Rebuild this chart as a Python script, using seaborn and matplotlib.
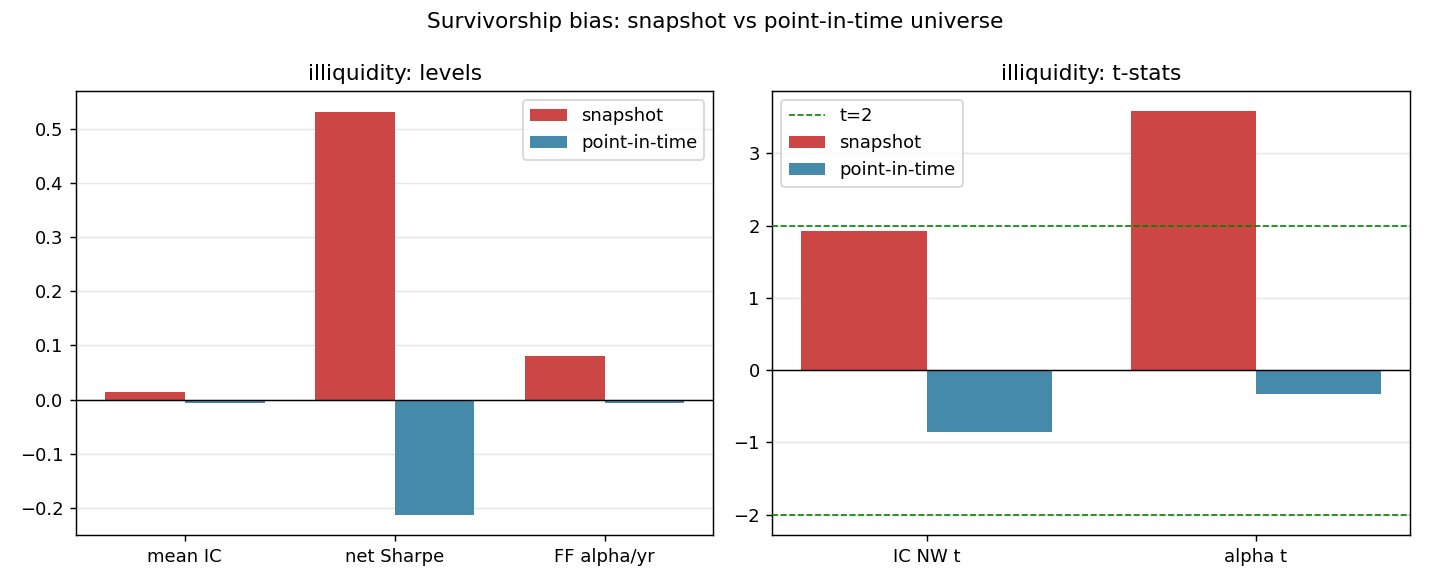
import matplotlib
matplotlib.use("Agg")
import matplotlib.pyplot as plt
import seaborn as sns
import pandas as pd

# data
level_metrics = ["mean IC", "net Sharpe", "FF alpha/yr"]
level_snapshot = [0.015, 0.532, 0.080]
level_pit = [-0.007, -0.213, -0.007]

tstat_metrics = ["IC NW t", "alpha t"]
tstat_snapshot = [1.92, 3.58]
tstat_pit = [-0.85, -0.33]

universes = ["snapshot", "point-in-time"]
colors = {"snapshot": "#cc4646", "point-in-time": "#4589ab"}

df_levels = pd.DataFrame({
    "metric": level_metrics * 2,
    "value": level_snapshot + level_pit,
    "universe": [universes[0]] * len(level_metrics) + [universes[1]] * len(level_metrics),
})
df_t = pd.DataFrame({
    "metric": tstat_metrics * 2,
    "value": tstat_snapshot + tstat_pit,
    "universe": [universes[0]] * len(tstat_metrics) + [universes[1]] * len(tstat_metrics),
})

fig, axes = plt.subplots(1, 2, figsize=(11, 4.5), dpi=130)

ax = axes[0]
sns.barplot(data=df_levels, x="metric", y="value", hue="universe", palette=colors,
            width=0.76, gap=0, saturation=1, ax=ax, zorder=2)
ax.axhline(0, color="black", linewidth=0.8, zorder=3)
ax.set_xlim(-0.518, len(level_metrics) - 1 + 0.518)
ax.set_ylim(-0.25, 0.57)
ax.grid(axis="y", color="#e6e6e6", linewidth=0.8, zorder=0)
ax.set_axisbelow(True)
ax.set_xlabel("")
ax.set_ylabel("")
ax.set_title("illiquidity: levels")
ax.legend(loc="upper right")

ax = axes[1]
sns.barplot(data=df_t, x="metric", y="value", hue="universe", palette=colors,
            width=0.76, gap=0, saturation=1, ax=ax, zorder=2)
ax.axhline(0, color="black", linewidth=0.8, zorder=3)
ax.axhline(2, color="green", linestyle="--", linewidth=0.9, label="t=2", zorder=3)
ax.axhline(-2, color="green", linestyle="--", linewidth=0.9, zorder=3)
ax.set_xlim(-0.468, len(tstat_metrics) - 1 + 0.468)
ax.set_ylim(-2.28, 3.86)
ax.grid(axis="y", color="#e6e6e6", linewidth=0.8, zorder=0)
ax.set_axisbelow(True)
ax.set_xlabel("")
ax.set_ylabel("")
ax.set_title("illiquidity: t-stats")
h, l = ax.get_legend_handles_labels()
order = [l.index("t=2"), l.index("snapshot"), l.index("point-in-time")]
ax.legend([h[i] for i in order], [l[i] for i in order], loc="upper left")

fig.suptitle("Survivorship bias: snapshot vs point-in-time universe", fontsize=12)
fig.subplots_adjust(left=0.0531, right=0.986, bottom=0.0855, top=0.8444, wspace=0.0925)
fig.savefig("out.png", dpi=130)
